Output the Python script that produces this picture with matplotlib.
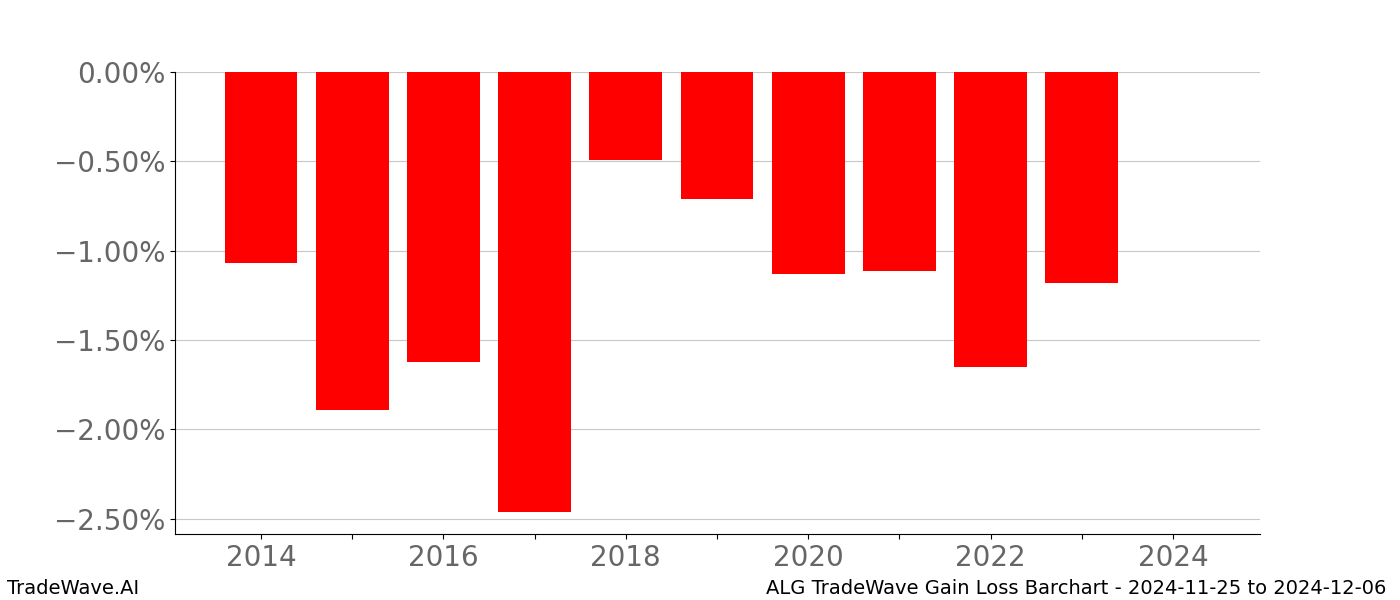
import numpy as np
import matplotlib.pyplot as plt
from matplotlib.ticker import FuncFormatter

# yearly gain/loss values (percent)
years = [2014, 2015, 2016, 2017, 2018, 2019, 2020, 2021, 2022, 2023]
losses = [-1.07, -1.89, -1.62, -2.46, -0.49, -0.71, -1.13, -1.115, -1.65, -1.18]

ticker = 'ALG'
start_date = '2024-11-25'
end_date = '2024-12-06'

fig = plt.figure(figsize=(14, 6), dpi=100)
ax = fig.add_subplot(111)

ax.bar(years, losses, width=0.8, color='red', zorder=2)

ax.set_xlim(2013.057, 2024.954)
ax.set_ylim(-2.585, 0)
ax.set_xticks(range(2014, 2025))
ax.set_xticklabels([str(y) if y % 2 == 0 else '' for y in range(2014, 2025)])
ax.set_yticks([0, -0.5, -1.0, -1.5, -2.0, -2.5])
ax.yaxis.set_major_formatter(FuncFormatter(lambda v, p: '%.2f%%' % v if v >= 0 else '\u2212%.2f%%' % abs(v)))

ax.grid(axis='y', color='#c8c8c8', linewidth=0.8, zorder=0)
ax.spines['right'].set_visible(False)
ax.spines['top'].set_visible(False)
ax.tick_params(axis='both', labelsize=20, labelcolor='#666666')

fig.text(0.005, 0.01, 'TradeWave.AI', fontsize=14)
fig.text(0.99, 0.01, f'{ticker} TradeWave Gain Loss Barchart - {start_date} to {end_date}',
         fontsize=14, ha='right')

plt.savefig('out.png')
